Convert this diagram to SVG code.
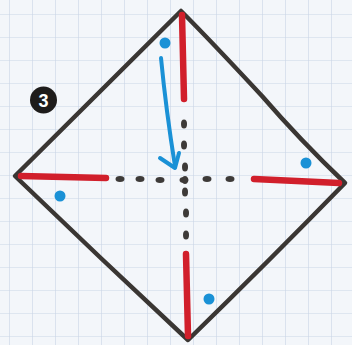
<svg xmlns="http://www.w3.org/2000/svg" width="352" height="345" viewBox="0 0 352 345">
  <defs>
    <pattern id="grid" width="23" height="23" patternUnits="userSpaceOnUse" x="9" y="14">
      <path d="M0 0 H23 M0 0 V23" fill="none" stroke="#c9d5e6" stroke-width="1.2"/>
    </pattern>
    <style>
      .outline{fill:none;stroke:#3a3633;stroke-width:4.5;stroke-linejoin:round;stroke-linecap:round}
      .red{fill:none;stroke:#d11f2b;stroke-width:6.5;stroke-linecap:round}
      .dot{fill:#3d3a38}
      .blue{fill:#1a91d6}
      .arrow{fill:none;stroke:#1a91d6;stroke-width:4;stroke-linecap:round;stroke-linejoin:round}
      .num{font-family:"Liberation Sans",Arial,sans-serif;font-weight:bold;font-size:18px;fill:#ffffff}
    </style>
  </defs>
  <rect width="352" height="345" fill="#f3f6fa"/>
  <rect width="352" height="345" fill="url(#grid)"/>

  <g id="square">
    <path class="outline" d="M181 11 Q210 40 262 96 Q300 140 345 183 Q270 260 188 340 Q100 258 15 176 Q100 92 181 11 Z"/>
  </g>

  <g id="connectors">
    <g id="red-edges">
      <path class="red" d="M182 15 L184 99"/>
      <path class="red" d="M21 176 L106 178"/>
      <path class="red" d="M254 179 L339 183"/>
      <path class="red" d="M186 254 L188 336"/>
    </g>
    <g id="fold-lines">
      <ellipse class="dot" cx="120" cy="179" rx="4.5" ry="3"/>
      <ellipse class="dot" cx="140" cy="179" rx="4.5" ry="3"/>
      <ellipse class="dot" cx="160" cy="180" rx="4.5" ry="3"/>
      <ellipse class="dot" cx="184" cy="180" rx="4.5" ry="3"/>
      <ellipse class="dot" cx="207" cy="179" rx="4.5" ry="3"/>
      <ellipse class="dot" cx="230" cy="179" rx="4.5" ry="3"/>
      <ellipse class="dot" cx="184" cy="124" rx="3" ry="4.5"/>
      <ellipse class="dot" cx="184" cy="145" rx="3" ry="4.5"/>
      <ellipse class="dot" cx="185" cy="167" rx="3" ry="4.5"/>
      <ellipse class="dot" cx="185" cy="180" rx="3" ry="4"/>
      <ellipse class="dot" cx="185" cy="192" rx="3" ry="4.5"/>
      <ellipse class="dot" cx="186" cy="213" rx="3" ry="4.5"/>
      <ellipse class="dot" cx="186" cy="235" rx="3" ry="4.5"/>
    </g>
    <g id="fold-arrow">
      <path class="arrow" d="M161 58 Q166 110 175 166"/>
      <path class="arrow" d="M160 158 L175 168 L179 153"/>
    </g>
  </g>

  <g id="corner-dots">
    <circle class="blue" cx="165" cy="43" r="5.5"/>
    <circle class="blue" cx="60" cy="196" r="5.5"/>
    <circle class="blue" cx="306" cy="163" r="5.5"/>
    <circle class="blue" cx="209" cy="299" r="5.5"/>
  </g>

  <g id="step-number">
    <circle cx="43.5" cy="100" r="13.5" fill="#1e1c1b"/>
    <text class="num" x="43.5" y="106.5" text-anchor="middle">3</text>
  </g>
</svg>
